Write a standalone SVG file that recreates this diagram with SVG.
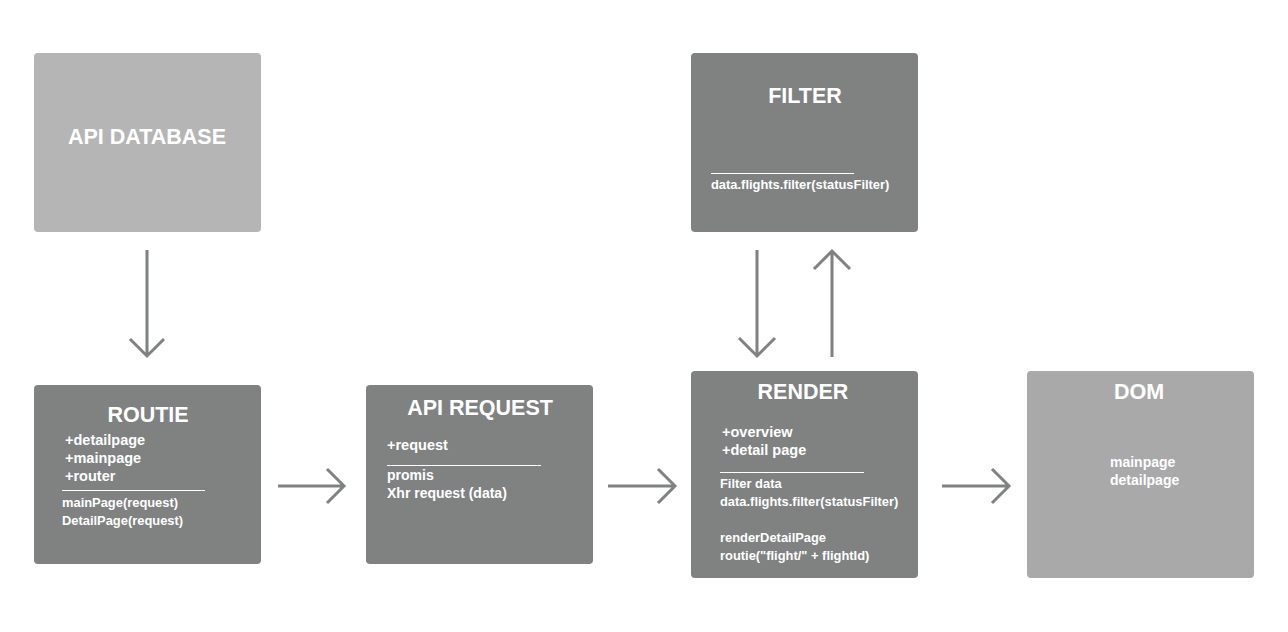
<svg xmlns="http://www.w3.org/2000/svg" width="1288" height="632" viewBox="0 0 1288 632">
<style>
.dark{fill:#7f8281}
.t{fill:#fff;font-family:"Liberation Sans",Arial,sans-serif;font-weight:bold}
.title{font-size:21.5px;text-anchor:middle}
.m{font-size:14.5px}
.s{font-size:12.9px}
.sep{stroke:#fff;stroke-width:1}
.ar{stroke:#7f8281;stroke-width:3;fill:none}
</style>
<rect width="1288" height="632" fill="#fff"/>
<g id="api-database">
<rect x="34" y="53" width="227" height="179" rx="4" fill="#b5b5b5"/>
<text class="t title" x="147" y="144">API DATABASE</text>
</g>
<g id="routie">
<rect class="dark" x="34" y="385" width="227" height="179" rx="4"/>
<text class="t title" x="148" y="422">ROUTIE</text>
<text class="t m" x="65" y="445">+detailpage</text>
<text class="t m" x="65" y="463">+mainpage</text>
<text class="t m" x="65" y="481">+router</text>
<line class="sep" x1="62" y1="490.5" x2="205" y2="490.5"/>
<text class="t s" x="62" y="507">mainPage(request)</text>
<text class="t s" x="62" y="525">DetailPage(request)</text>
</g>
<g id="api-request">
<rect class="dark" x="366" y="385" width="227" height="179" rx="4"/>
<text class="t title" x="480" y="415">API REQUEST</text>
<text class="t m" x="387" y="450">+request</text>
<line class="sep" x1="387" y1="465.5" x2="541" y2="465.5"/>
<text class="t" font-size="14" x="387" y="480">promis</text>
<text class="t" font-size="14" x="387" y="498">Xhr request (data)</text>
</g>
<g id="filter">
<rect class="dark" x="691" y="53" width="227" height="179" rx="4"/>
<text class="t title" x="805" y="103">FILTER</text>
<line class="sep" x1="711" y1="173.5" x2="854" y2="173.5"/>
<text class="t s" x="711" y="189">data.flights.filter(statusFilter)</text>
</g>
<g id="render">
<rect class="dark" x="691" y="371" width="227" height="207" rx="4"/>
<text class="t title" x="803" y="399">RENDER</text>
<text class="t m" x="722" y="437">+overview</text>
<text class="t m" x="722" y="455">+detail page</text>
<line class="sep" x1="720" y1="472.5" x2="864" y2="472.5"/>
<text class="t s" x="720" y="488">Filter data</text>
<text class="t s" x="720" y="506">data.flights.filter(statusFilter)</text>
<text class="t s" x="720" y="542">renderDetailPage</text>
<text class="t s" x="720" y="560">routie("flight/" + flightId)</text>
</g>
<g id="dom">
<rect x="1027" y="371" width="227" height="207" rx="4" fill="#a9a9a9"/>
<text class="t title" font-size="22" x="1139" y="399">DOM</text>
<text class="t" font-size="14" x="1110" y="467">mainpage</text>
<text class="t" font-size="14" x="1110" y="485">detailpage</text>
</g>
<g id="connectors">
<path class="ar" d="M147 250V356M130 339L147 356L164 339"/>
<path class="ar" d="M278 486H344M327 469L344 486L327 503"/>
<path class="ar" d="M608 486H675M658 469L675 486L658 503"/>
<path class="ar" d="M942 486H1009M992 469L1009 486L992 503"/>
<path class="ar" d="M757 250V356M739 338L757 356L775 338"/>
<path class="ar" d="M832 357V251M814 269L832 251L850 269"/>
</g>
</svg>
